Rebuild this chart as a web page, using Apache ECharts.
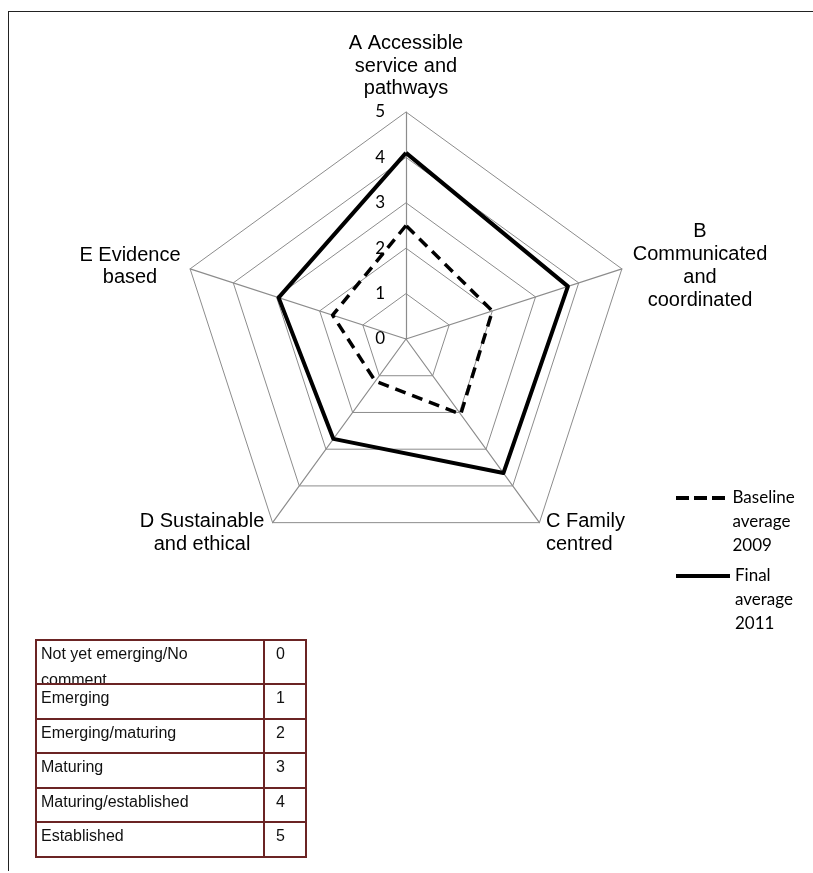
<!DOCTYPE html>
<html>
<head>
<meta charset="utf-8">
<script src="https://cdn.jsdelivr.net/npm/echarts@6/dist/echarts.min.js"></script>
<style>
    * { margin: 0; padding: 0; }
    body { background: #fff; width: 813px; height: 873px; position: relative; overflow: hidden; }
    #chart { position: absolute; left: 0; top: 0; width: 813px; height: 873px; }
    #frame { position: absolute; left: 8px; top: 11px; width: 810px; height: 859px;
             border-top: 1.5px solid #222; border-left: 1.5px solid #222; }
    .cell { position: absolute; box-sizing: border-box; border: 2px solid #6b2424;
            font: 16px "Liberation Sans", Arial, sans-serif; color: #111;
            line-height: 26px; overflow: visible; white-space: nowrap; }
</style>
</head>
<body>
<div id="frame"></div>
<div id="chart"></div>
<div id="table"></div>
<script>
    // 各维度（A-E）
    var dimensions = ['A Accessible\nservice and\npathways', 'B\nCommunicated\nand\ncoordinated',
        'C Family\ncentred', 'D Sustainable\nand ethical', 'E Evidence\nbased'];
    var seriesNames = ['Baseline\naverage\n2009', 'Final\naverage\n2011'];
    var baseline = [2.5, 2.0, 2.05, 1.15, 1.7];
    var final2011 = [4.1, 3.75, 3.65, 2.72, 2.95];
    var scaleMax = 5;
    // 评分说明表
    var ratingLabels = ['Not yet emerging/No\ncomment', 'Emerging', 'Emerging/maturing',
        'Maturing', 'Maturing/established', 'Established'];
    var ratingValues = [0, 1, 2, 3, 4, 5];

    var cx = 406, cy = 339, R = 227;

    // echarts radar is counter-clockwise, so go A, E, D, C, B
    var order = [0, 4, 3, 2, 1];
    var indicator = order.map(function (i) { return { name: dimensions[i], min: 0, max: scaleMax }; });
    function pick(arr) { return order.map(function (i) { return arr[i]; }); }

    // axis name placement (text only)
    var nameLayout = [
        { x: 406, y: 66, align: 'center', lh: 22.5 },
        { x: 700, y: 266, align: 'center', lh: 23 },
        { x: 546, y: 533, align: 'left', lh: 23 },
        { x: 202, y: 533, align: 'center', lh: 23 },
        { x: 130, y: 266, align: 'center', lh: 22 }
    ];
    var nameTexts = dimensions.map(function (d, i) {
        var p = nameLayout[i];
        return {
            type: 'text', x: p.x, y: p.y, z: 10,
            style: {
                text: d, align: p.align, verticalAlign: 'middle', lineHeight: p.lh,
                font: '20px "Liberation Sans", Arial, sans-serif', fill: '#000'
            }
        };
    });

    // two blank lines on top so the first text line sits beside the icon
    var legendText = { color: '#000', fontSize: 17, fontFamily: 'Lato', lineHeight: 24 };
    var legendFmt = function (name) { return '\n\n' + name; };

    var chart = echarts.init(document.getElementById('chart'));
    chart.setOption({
        animation: false,
        legend: [{
            data: [{ name: seriesNames[0], icon: 'path://M0,0h13v4h-13z M18,0h13v4h-13z M36,0h13v4h-13z' }],
            left: 676, top: 438, padding: 0, itemWidth: 54, itemHeight: 4, itemGap: 0,
            orient: 'vertical', selectedMode: false, textStyle: legendText, formatter: legendFmt
        }, {
            data: [{ name: seriesNames[1], icon: 'rect' }],
            left: 676, top: 516, padding: 0, itemWidth: 54, itemHeight: 4, itemGap: 0,
            orient: 'vertical', selectedMode: false, textStyle: legendText, formatter: legendFmt
        }],
        radar: {
            center: [cx, cy], radius: R, startAngle: 90, splitNumber: 5, shape: 'polygon',
            indicator: indicator,
            axisName: { show: false },
            splitLine: { lineStyle: { color: '#8c8c8c', width: 1 } },
            splitArea: { show: false },
            axisLine: { lineStyle: { color: '#8c8c8c', width: 1.2 } }
        },
        polar: { center: [cx, cy], radius: R },
        angleAxis: { show: false, startAngle: 90, min: 0, max: 360 },
        radiusAxis: {
            min: 0, max: scaleMax, interval: 1, z: 20,
            axisLine: { show: false }, axisTick: { show: false }, splitLine: { show: false },
            axisLabel: { margin: 21, color: '#000', fontSize: 17, fontFamily: 'Lato' }
        },
        graphic: nameTexts,
        series: [{
            type: 'radar',
            symbol: 'none',
            data: [{
                name: seriesNames[0], value: pick(baseline),
                itemStyle: { color: '#000' },
                lineStyle: { color: '#000', width: 3.5, type: [11, 7] }
            }, {
                name: seriesNames[1], value: pick(final2011),
                itemStyle: { color: '#000' },
                lineStyle: { color: '#000', width: 4 }
            }]
        }]
    });

    // 表格
    var colX = [36, 264, 306];
    var rowY = [640, 684, 719, 753, 788, 822, 857];
    var tbl = document.getElementById('table');
    function cell(x0, x1, y0, y1, text, padLeft) {
        var d = document.createElement('div');
        d.className = 'cell';
        d.style.cssText = 'left:' + (x0 - 1) + 'px;top:' + (y0 - 1) + 'px;width:' + (x1 - x0 + 2) +
            'px;height:' + (y1 - y0 + 2) + 'px;padding-left:' + padLeft + 'px;';
        d.innerText = text;
        tbl.appendChild(d);
    }
    ratingLabels.forEach(function (lab, i) {
        cell(colX[0], colX[1], rowY[i], rowY[i + 1], lab, 4);
        cell(colX[1], colX[2], rowY[i], rowY[i + 1], ratingValues[i], 11);
    });
</script>
</body>
</html>
